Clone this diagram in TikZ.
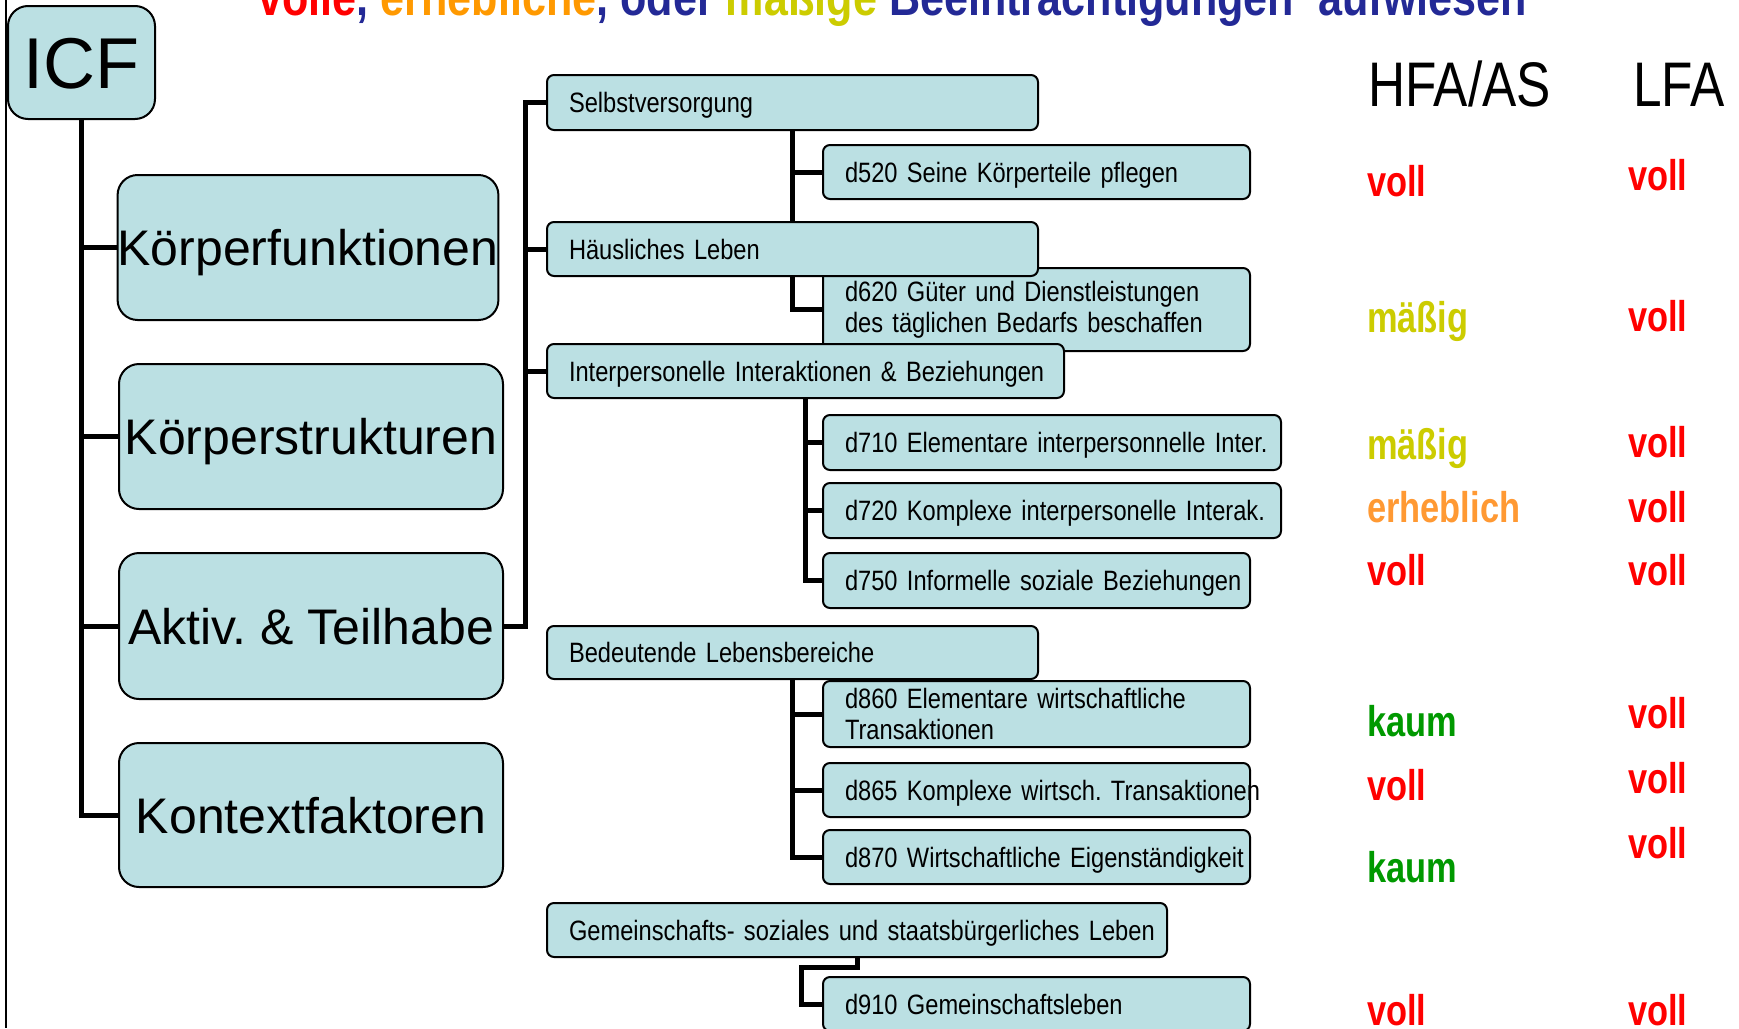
\documentclass[tikz,border=0pt]{standalone}
\usepackage{fontspec}
\setmainfont{Liberation Sans}
\newfontfamily\narrowfam[FakeStretch=0.845]{Liberation Sans}
\newfontfamily\valfam[FakeStretch=0.8]{Liberation Sans}
\newfontfamily\titlefam[FakeStretch=0.83]{Liberation Sans}
\newfontfamily\hdrfam[FakeStretch=0.815]{Liberation Sans}
\newcommand\catfont{\narrowfam\fontsize{28}{31}\selectfont\setlength{\spaceskip}{4.5pt}}
\frenchspacing
\definecolor{boxfill}{RGB}{187,224,227}
\definecolor{vred}{RGB}{255,0,0}
\definecolor{vyellow}{RGB}{204,204,0}
\definecolor{vorange}{RGB}{255,153,51}
\definecolor{vgreen}{RGB}{0,153,0}
\definecolor{tblue}{RGB}{35,41,150}
\definecolor{torange}{RGB}{255,153,0}
\tikzset{
  bigbox/.style={draw=black, line width=2pt, fill=boxfill, rounded corners=20pt, inner sep=0pt,
    font=\fontsize{50}{60}\selectfont, text height=36pt, text depth=0pt},
  catbox/.style={draw=black, line width=2pt, fill=boxfill, rounded corners=7pt, inner xsep=22pt,
    inner ysep=0pt, align=left, font=\catfont},
  oneline/.style={text height=20pt, text depth=0pt},
  conn/.style={line width=5pt},
  val/.style={anchor=base west, inner sep=0pt, font=\valfam\bfseries\fontsize{43}{50}\selectfont},
  hdr/.style={anchor=base west, inner sep=0pt, font=\hdrfam\fontsize{63}{70}\selectfont},
}
\begin{document}
\begin{tikzpicture}[x=1pt,y=-1pt]
\useasboundingbox (0,0) rectangle (1739,1028);
\clip (0,0) rectangle (1739,1028);
\fill[white] (0,0) rectangle (1739,1028);
\draw[line width=2.5pt] (6,0) -- (6,1028);

% title (cut at top)
\node[anchor=base west, inner sep=0pt, font=\titlefam\bfseries\fontsize{52}{60}\selectfont] (title) at (258,15)
 {\textcolor{vred}{volle}\textcolor{tblue}{,}\ \textcolor{torange}{erhebliche}\textcolor{tblue}{,}\ \textcolor{tblue}{oder}\ \textcolor{vyellow}{mäßige}\ \textcolor{tblue}{Beeinträchtigungen}\hspace{24pt}\textcolor{tblue}{aufwiesen}};

% ICF and main boxes
\node[bigbox, minimum width=147pt, minimum height=113pt, font=\fontsize{72}{80}\selectfont, text height=51.5pt] (ICF) at (81.5,62.5) {ICF};
\node[bigbox, minimum width=380pt, minimum height=145pt] (KF) at (308,247.5) {Körperfunktionen};
\node[bigbox, minimum width=384pt, minimum height=145pt] (KS) at (311,436.5) {Körperstrukturen};
\node[bigbox, minimum width=384pt, minimum height=146pt] (AT) at (311,626) {Aktiv. \& Teilhabe};
\node[bigbox, minimum width=384pt, minimum height=144pt] (KX) at (311,815) {Kontextfaktoren};

% category and item boxes
\node[catbox, oneline, text width=447pt, minimum height=55pt] (Sel) at (792.5,102.5) {\mbox{Selbstversorgung}};
\node[catbox, oneline, text width=383pt, minimum height=54pt] (d520) at (1036.5,172) {\mbox{d520 Seine Körperteile pflegen}};
\node[catbox, text width=383pt, minimum height=83pt] (d620) at (1036.5,309.5) {\mbox{d620 Güter und Dienstleistungen}\\\mbox{des täglichen Bedarfs beschaffen}};
\node[catbox, oneline, text width=447pt, minimum height=54pt] (Hae) at (792.5,249) {\mbox{Häusliches Leben}};
\node[catbox, oneline, text width=473pt, minimum height=54pt] (Int) at (805.5,371) {\mbox{Interpersonelle Interaktionen \& Beziehungen}};
\node[catbox, oneline, text width=414pt, minimum height=55pt] (d710) at (1052,442.5) {\mbox{d710 Elementare interpersonnelle Inter.}};
\node[catbox, oneline, text width=414pt, minimum height=55pt] (d720) at (1052,510.5) {\mbox{d720 Komplexe interpersonelle Interak.}};
\node[catbox, oneline, text width=383pt, minimum height=55pt] (d750) at (1036.5,580.5) {\mbox{d750 Informelle soziale Beziehungen}};
\node[catbox, oneline, text width=447pt, minimum height=53pt] (Bed) at (792.5,652.5) {\mbox{Bedeutende Lebensbereiche}};
\node[catbox, text width=383pt, minimum height=66pt] (d860) at (1036.5,714) {\mbox{d860 Elementare wirtschaftliche}\\\mbox{Transaktionen}};
\node[catbox, oneline, text width=383pt, minimum height=54pt] (d865) at (1036.5,790) {\mbox{d865 Komplexe wirtsch. Transaktionen}};
\node[catbox, oneline, text width=383pt, minimum height=54pt] (d870) at (1036.5,857) {\mbox{d870 Wirtschaftliche Eigenständigkeit}};
\node[catbox, oneline, text width=576pt, minimum height=54pt] (Gem) at (857,930) {\mbox{Gemeinschafts- soziales und staatsbürgerliches Leben}};
\node[catbox, oneline, text width=383pt, minimum height=54pt] (d910) at (1036.5,1004) {\mbox{d910 Gemeinschaftsleben}};

% connectors level 1
\draw[conn] (ICF.south) |- (KX.west);
\draw[conn] (ICF.south |- KF.west) -- (KF.west);
\draw[conn] (ICF.south |- KS.west) -- (KS.west);
\draw[conn] (ICF.south |- AT.west) -- (AT.west);

% connectors level 2
\coordinate (T2) at (525,102.5);
\draw[conn] (AT.east) -| (T2) -- (Sel.west);
\draw[conn] (T2 |- Hae.west) -- (Hae.west);
\draw[conn] (T2 |- Int.west) -- (Int.west);

% connectors level 3
\draw[conn] (Sel.south) -- (Hae.north);
\draw[conn] (Sel.south |- d520.west) -- (d520.west);
\draw[conn] (Hae.south) |- (d620.west);
\draw[conn] (Int.south) |- (d750.west);
\draw[conn] (Int.south |- d710.west) -- (d710.west);
\draw[conn] (Int.south |- d720.west) -- (d720.west);
\draw[conn] (Bed.south) |- (d870.west);
\draw[conn] (Bed.south |- d860.west) -- (d860.west);
\draw[conn] (Bed.south |- d865.west) -- (d865.west);
\coordinate (G1) at (801,967);
\draw[conn] (Gem.south) |- (G1) |- (d910.west);

% headers
\node[hdr] (hHFA) at (1368,106) {HFA/AS};
\node[hdr] (hLFA) at (1633,106) {LFA};

% values column 1
\node[val, text=vred] (a1) at (1367,196) {voll};
\node[val, text=vyellow] (a2) at (1367,332) {mäßig};
\node[val, text=vyellow] (a3) at (1367,459) {mäßig};
\node[val, text=vorange] (a4) at (1367,522) {erheblich};
\node[val, text=vred] (a5) at (1367,585) {voll};
\node[val, text=vgreen] (a6) at (1367,736) {kaum};
\node[val, text=vred] (a7) at (1367,800) {voll};
\node[val, text=vgreen] (a8) at (1367,882) {kaum};
\node[val, text=vred] (a9) at (1367,1025) {voll};

% values column 2
\node[val, text=vred] (b1) at (1628,190) {voll};
\node[val, text=vred] (b2) at (1628,331) {voll};
\node[val, text=vred] (b3) at (1628,457) {voll};
\node[val, text=vred] (b4) at (1628,522) {voll};
\node[val, text=vred] (b5) at (1628,585) {voll};
\node[val, text=vred] (b6) at (1628,728) {voll};
\node[val, text=vred] (b7) at (1628,793) {voll};
\node[val, text=vred] (b8) at (1628,858) {voll};
\node[val, text=vred] (b9) at (1628,1025) {voll};
\end{tikzpicture}
\end{document}
